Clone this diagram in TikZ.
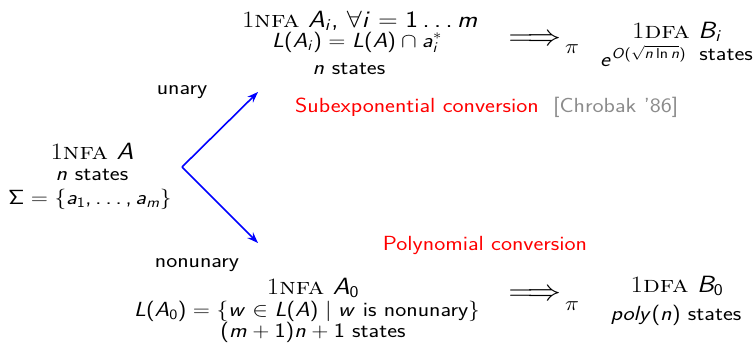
\RequirePackage{fix-cm}
\documentclass[tikz,border=0pt]{standalone}
\usepackage{amsmath}
\usepackage{graphicx}
\usetikzlibrary{arrows.meta}
\renewcommand{\familydefault}{\sfdefault}
% sans-serif math letters and digits, as on a beamer slide
\SetSymbolFont{operators}{normal}{OT1}{cmss}{m}{n}
\SetSymbolFont{letters}{normal}{OT1}{cmss}{m}{sl}
\DeclareSymbolFont{origletters}{OML}{cmm}{m}{it}
\DeclareMathSymbol{\pi}{\mathord}{origletters}{"19}
\DeclareMathSymbol{,}{\mathpunct}{operators}{"2C}
\DeclareMathSymbol{.}{\mathord}{operators}{"2E}
\DeclareMathSymbol{\ldotp}{\mathpunct}{operators}{"2E}
\newcommand{\nfa}{{\rmfamily 1\textsc{nfa}}}
\newcommand{\dfa}{{\rmfamily 1\textsc{dfa}}}
\newcommand{\sq}[1]{\scalebox{1}[0.87]{#1}}
\begin{document}
\begin{tikzpicture}[x=1pt,y=-1pt,
  txt/.style={inner sep=0pt,anchor=base,font=\fontsize{23.5}{27}\selectfont},
  big/.style={inner sep=0pt,anchor=base,font=\fontsize{27}{31}\selectfont},
  implies/.style={inner sep=0pt,anchor=center,font=\fontsize{34}{38}\selectfont},
  branch/.style={draw=blue,line width=1.6pt,-{Stealth[length=11pt,width=8pt]}}]
\useasboundingbox (0,0) rectangle (756,343);
% left block
\node[big] (a1) at (92,159) {\sq{\nfa{} $A$}};
\node[txt] (a2) at (92,180) {\sq{$n$ states}};
\node[txt] (a3) at (90,204) {\sq{$\Sigma=\{a_1,\ldots,a_m\}$}};
% fork
\coordinate (fork) at (182,167);
\coordinate (up) at (258,92);
\coordinate (down) at (258,243);
\draw[branch] (fork) -- (up);
\draw[branch] (fork) -- (down);
\node[txt] (un) at (182,94) {\sq{unary}};
\node[txt] (nu) at (197,267) {\sq{nonunary}};
% top block
\node[big] (t1) at (360,27) {\sq{\nfa{} $A_i$, $\forall i=1\ldots m$}};
\node[txt] (t2) at (357,47) {\sq{$L(A_i)=L(A)\cap a_i^*$}};
\node[txt] (t3) at (349,74) {\sq{$n$ states}};
\node[implies] (ti) at (535,40) {\sq{$\Longrightarrow$}};
\node[txt,anchor=base west] (tp) at (565,53) {\sq{$\pi$}};
\node[big] (r1) at (677,38) {\sq{\dfa{} $B_i$}};
\node[txt,anchor=base west] (r2e) at (600,66) {\sq{$e^{O(\sqrt{n\ln n})}$}};
\node[txt,anchor=base east] (r2s) at (753,60) {\sq{states}};
\node[txt,red,anchor=base west] (sub) at (295,112) {\sq{Subexponential conversion}};
\node[txt,black!45,anchor=base west] (chr) at (553,112) {\sq{[Chrobak '86]}};
% bottom block
\node[txt,red] (poly) at (485,250) {\sq{Polynomial conversion}};
\node[big] (b1) at (313,294) {\sq{\nfa{} $A_0$}};
\node[txt] (b2) at (307,316) {\sq{$L(A_0)=\{w\in L(A)\mid w\text{ is nonunary}\}$}};
\node[txt] (b3) at (313,337) {\sq{$(m+1)n+1$ states}};
\node[implies] (bi) at (535,295) {\sq{$\Longrightarrow$}};
\node[txt,anchor=base west] (bp) at (565,310) {\sq{$\pi$}};
\node[big] (s1) at (677,292) {\sq{\dfa{} $B_0$}};
\node[txt] (s2) at (676,320) {\sq{$poly(n)$ states}};
\end{tikzpicture}
\end{document}
